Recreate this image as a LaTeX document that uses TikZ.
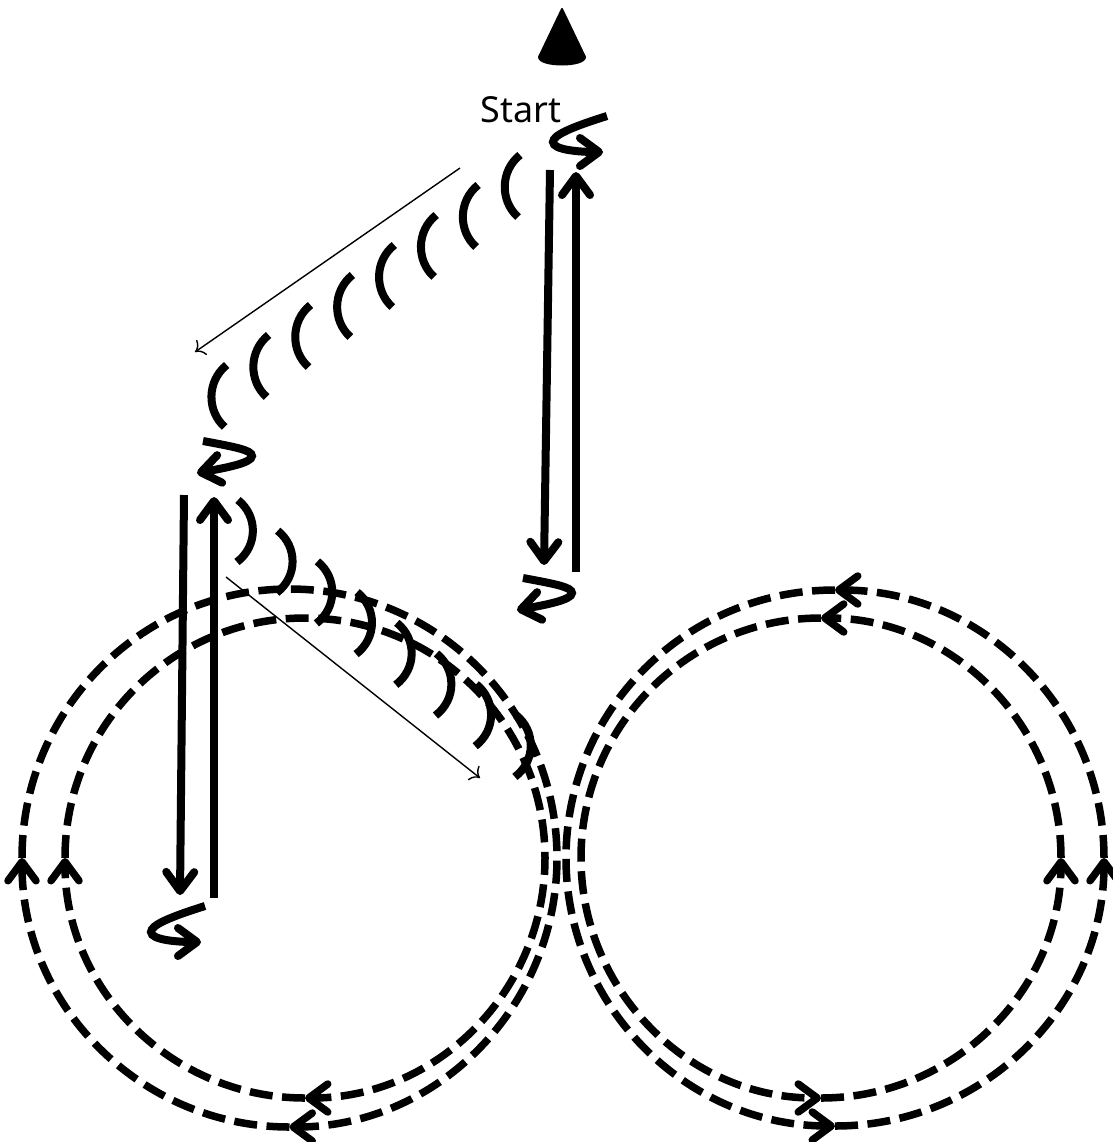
\documentclass[tikz,border=0pt]{standalone}
\usepackage{fontspec}
\setmainfont{Noto Sans}
\usetikzlibrary{arrows.meta}

\tikzset{
  barb/.tip={Straight Barb[length=0.19cm,width=0.28cm,round]},
  runline/.style={line width=0.08cm,-barb},
  curlline/.style={line width=0.08cm,-barb},
  arcline/.style={line width=0.08cm},
  ringline/.style={line width=0.075cm,dash pattern=on 0.23cm off 0.095cm,-barb},
  thinline/.style={line width=0.014cm,->}
}

\begin{document}
\begin{tikzpicture}[x=0.01cm,y=-0.01cm]
\useasboundingbox (0,0) rectangle (1113,1142);

% Cone and label
\draw[fill,line width=0.02cm,line join=round] (562,9) -- (585,57) .. controls (585,67) and (539,67) .. (539,57) -- cycle;
\node (start) at (521,110) {\fontsize{10.2pt}{12pt}\selectfont Start};

% Curved turns
\draw[curlline] (607,116) .. controls (572,127) and (553,135) .. (553,142) .. controls (553,150) and (580,152) .. (603,152);
\draw[curlline] (205,906) .. controls (170,917) and (151,925) .. (151,932) .. controls (151,940) and (178,942) .. (201,942);
\draw[curlline] (203,441) .. controls (235,447) and (252,450) .. (252,456) .. controls (252,463) and (225,468) .. (197,473);
\draw[curlline] (523,578) .. controls (555,584) and (572,587) .. (572,593) .. controls (572,600) and (545,605) .. (517,610);

% Long runs
\draw[runline] (550,170) -- (544,565);
\draw[runline] (576,572) -- (576,172);
\draw[runline] (184,495) -- (180,895);
\draw[runline] (214,898) -- (214,497);

% Thin direction arrows
\draw[thinline] (460,168) -- (195,352);
\draw[thinline] (226,577) -- (480,778);

% Small arcs
\foreach \i in {0,...,7} {
  \draw[arcline,shift={({520-41.9*\i},{155+30*\i})}] (0,0) .. controls (-20,16) and (-20,46) .. (-2,62);
  \draw[arcline,shift={({238+39.7*\i},{500+30.7*\i})}] (0,0) .. controls (20,16) and (20,46) .. (-1,62);
}

% Left rings
\draw[ringline] (289.5,1127) arc[start angle=90,end angle=180,x radius=267.5,y radius=269];
\draw[ringline] (22,858) arc[start angle=180,end angle=450,x radius=267.5,y radius=269];
\draw[ringline] (305,1098) arc[start angle=90,end angle=180,x radius=240,y radius=240];
\draw[ringline] (65,858) arc[start angle=180,end angle=450,x radius=240,y radius=240];

% Right rings
\draw[ringline] (835,590) arc[start angle=270,end angle=90,x radius=269,y radius=268];
\draw[ringline] (835,1126) arc[start angle=90,end angle=0,x radius=269,y radius=268];
\draw[ringline] (1104,858) arc[start angle=0,end angle=-90,x radius=269,y radius=268];
\draw[ringline] (821,618) arc[start angle=270,end angle=90,x radius=240,y radius=240];
\draw[ringline] (821,1098) arc[start angle=90,end angle=0,x radius=240,y radius=240];
\draw[ringline] (1061,858) arc[start angle=0,end angle=-90,x radius=240,y radius=240];
\end{tikzpicture}
\end{document}
